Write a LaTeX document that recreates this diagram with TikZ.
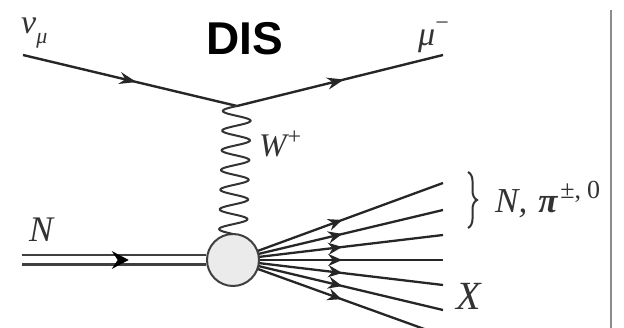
\documentclass[tikz,border=0pt]{standalone}
\usepackage{fontspec}
\setmainfont{Liberation Serif}
\newfontfamily\dissans{Liberation Sans}
\usetikzlibrary{arrows.meta,decorations.markings,decorations.pathreplacing,backgrounds}
\tikzset{
  lbl/.style={inner sep=0pt, anchor=base west, text=black!80},
  fermion/.style={line width=2.4pt, draw=black!85, postaction={decorate},
    decoration={markings, mark=at position #1 with {\arrow{Stealth[length=17pt,width=12pt]}}}},
  fermion/.default=0.5,
  hadron/.style={line width=2.3pt, draw=black!85, postaction={decorate},
    decoration={markings, mark=at position #1 with {\arrow{Stealth[length=14pt,width=12pt]}}}},
  hadron/.default=0.5,
  nucleon/.style={line width=2.8pt, draw=black!75, double=white, double distance=7pt, postaction={decorate},
    decoration={markings, mark=at position #1 with {\fill[black] (-17pt,-9pt) -- (0pt,0pt) -- (-17pt,9pt) -- (-11pt,0pt) -- cycle;}}},
  blobstyle/.style={circle, draw=black!75, line width=2pt, fill=black!8, minimum size=52pt, inner sep=0pt},
  boson/.style={line width=2pt, draw=black!80}
}
\begin{document}
\begin{tikzpicture}[x=1pt,y=-1pt]
\useasboundingbox (0,0) rectangle (624,328);
% coordinates
\coordinate (nuin) at (23,55);
\coordinate (vtx) at (237,106);
\coordinate (muout) at (443,55);
\coordinate (Nin) at (22,260);
\node[blobstyle] (blob) at (233,260) {};
\coordinate (e1) at (443,183);
\coordinate (e2) at (443,210);
\coordinate (e3) at (443,235);
\coordinate (e4) at (443,260);
\coordinate (e5) at (443,285);
\coordinate (e6) at (443,310);
\coordinate (e7) at (427,330);
\coordinate (vtop) at (611,10);
\coordinate (vbot) at (611,330);
% lepton lines
\draw[fermion=0.53] (nuin) -- (vtx);
\draw[fermion=0.52] (vtx) -- (muout);
% W boson
\draw[boson] plot[domain=0:1, samples=300, smooth] ({237 - 4*\x - 14*sin(6.5*360*\x)}, {106 + 128*\x});
% incoming nucleon
\draw[nucleon=0.58] (Nin) -- (blob.west);
% outgoing hadrons (behind blob)
\begin{scope}[on background layer]
\foreach \e in {e1,e2,e3,e4,e5,e6} \draw[hadron=0.52] (blob.center) -- (\e);
\draw[hadron=0.56] (blob.center) -- (e7);
\end{scope}
% brace
\draw[line width=2pt, black!80, decorate, decoration={brace, amplitude=9pt}] (468,172) -- (468,228);
% right frame line
\draw[line width=2.5pt, black!45] (vtop) -- (vbot);
% labels
\node[lbl] (lnu) at (21,34) {\fontsize{34}{34}\selectfont\itshape ν\raisebox{-10pt}{\fontsize{22}{22}\selectfont μ}};
\node[inner sep=0pt, anchor=base] (ldis) at (245,55) {\dissans\bfseries\fontsize{46}{46}\selectfont DIS};
\node[lbl] (lmu) at (418,46) {\fontsize{34}{34}\selectfont\itshape μ\raisebox{15pt}{\fontsize{24}{24}\selectfont\upshape −}};
\node[lbl] (lW) at (259,157) {\fontsize{33}{33}\selectfont\itshape W\kern1pt\raisebox{12pt}{\fontsize{24}{24}\selectfont\upshape +}};
\node[lbl] (lN) at (29,242) {\fontsize{36}{36}\selectfont\itshape N};
\node[lbl] (lNpi) at (495,213) {\fontsize{35}{35}\selectfont\itshape N,\hspace{11pt}\bfseries π\kern3pt\raisebox{14pt}{\fontsize{26}{26}\selectfont\upshape\mdseries ±,\hspace{6pt}0}};
\node[lbl] (lX) at (456,310) {\fontsize{40}{40}\selectfont\itshape X};
\end{tikzpicture}
\end{document}
